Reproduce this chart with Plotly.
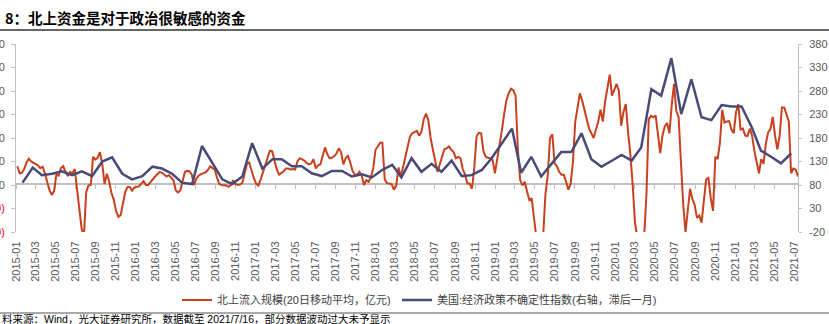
import plotly.graph_objects as go
import pandas as pd

# ---------------- data ----------------
title_text = "8：北上资金是对于政治很敏感的资金"
source_text = "料来源：Wind，光大证券研究所，数据截至 2021/7/16，部分数据波动过大未予显示"
red_name = "北上流入规模(20日移动平均，亿元)"
blue_name = "美国:经济政策不确定性指数(右轴，滞后一月)"

# weekly readings of the northbound 20-day MA (亿元), starting 2015-01-05
red_values = [
    40, 25, 26, 34, 48, 56, 50, 47, 45, 42,
    36, 39, 25, 4, -11, -21, -13, 22, 20, 36,
    40, 28, 19, 28, 25, 34, -5, -52, -92, -110,
    -15, -1, 0, 60, 54, 58, 70, 45, 2, 24,
    8, -17, -31, -55, -68, -64, -42, -15, -4, -4,
    -12, -5, -4, -3, 3, 8, 0, 0, 6, 13,
    18, 23, 28, 26, 22, 18, 21, 15, 10, -11,
    -16, -11, 12, 28, 30, 29, 22, 0, 14, 20,
    23, 25, 27, 32,
    40, 36, 33, 15, 2, 0, 0, -1, -4, 0,
    10, 2, 0, 1, 5, 28, 45, 48, 30, 15,
    3, -1, 12, 28, 40, 60, 73, 72, 52, 33,
    22, 25, 29, 35, 35, 33, 34, 33, 50, 57,
    55, 52, 47, 44, 46, 55, 35, 42, 44, 62,
    80, 66, 57, 58, 61, 67, 78, 70, 44, 57,
    62, 48, 30, 22, 22, 28, 20, 0, 10, 7,
    17, 35, 75, 82, 90, 90, 12, 4, 3, 2,
    -10, -2, 37, 18, 38, 62, 82,
    103, 110, 112, 115, 105, 113, 140, 152, 138,
    100, 75, 50, 28, 44, 62, 76, 78, 82, 75,
    70, 57, 60, 57, 34, 22, 3, 3, -8, 35,
    103, 111, 110, 72, 60, 58, 57, 53, 25, 55,
    82, 115, 150, 180, 195, 205, 202, 190, 76, 10,
    -1, 7, -14, -32, -28, -75, -110, -120, -120, -110,
    -20, 20, 100, 108, 46, 40, 28, 22, 22, 7,
    -10, 3, 50, 135, 170, 195, 180, 160, 140, 120,
    110, 100, 118, 135, 160, 135, 178, 210,
    235, 190, 205, 215, 200, 126, 156, 172, 112, 65,
    0, -80, -110, -115, -115, -110, -20, 140, 147, 144,
    148, 105, 68, 106, 125, 132, 110, 170, 215, 158,
    145, 50, -40, -100, -45, -8, -30, -42, -70, -65,
    -80, -36, 12, 15, -28, -55, 60, 55, 90, 160,
    133, 135, 136, 118, 110, 155, 172, 118, 120, 105,
    104, 120, 105, 73, 50, 25, 55, 45, 88, 112,
    119, 145, 105, 76, 105, 165, 165, 150, 135, 25,
    35, 33, 18,
]
red_dates = pd.date_range("2015-01-05", periods=len(red_values), freq="7D")

# monthly US economic policy uncertainty index (lagged one month)
blue_values = [
    85, 117, 101, 104, 109, 101, 109, 99, 130, 139, 104, 92,
    99, 119, 115, 104, 85, 82, 163, 128, 92, 82, 98, 169,
    115, 135, 135, 120, 120, 105, 99, 110, 110, 98, 103, 96,
    112, 123, 96, 137, 108, 125, 108, 132, 99, 101, 112, 137,
    169, 200, 106, 140, 98, 125, 150, 150, 190, 135, 119, 131,
    144, 132, 160, 284, 270, 350, 231, 305, 224, 218, 250, 247,
    247, 203, 153, 140, 126, 147,
]
blue_dates = pd.date_range("2015-01-01", periods=len(blue_values), freq="MS") + pd.Timedelta(days=20)

left_tickvals = [300, 250, 200, 150, 100, 50, 0, -50, -100]
left_ticktext = ["300", "250", "200", "150", "100", "50", "0",
                 "<span style='color:#FF0000'>(50)</span>",
                 "<span style='color:#FF0000'>(100)</span>"]
right_tickvals = [380, 330, 280, 230, 180, 130, 80, 30, -20]
right_ticktext = ["380", "330", "280", "230", "180", "130", "80", "30", "-20"]

# ---------------- style ----------------
W, H = 829, 324
ML, MR, MT, MB = 16, 31, 44, 92
PW, PH = W - ML - MR, H - MT - MB
RED = "#C8401E"
BLUE = "#4A4A78"
AXIS = "#BFBFBF"
FONT = "Liberation Sans, Arial, Noto Sans CJK SC"
TICKFONT = dict(family=FONT, size=11, color="#595959")
LEGFONT = dict(family=FONT, size=11, color="#404040")


def px_x(px):
    return (px - ML) / PW


def px_y(py):
    return (H - MB - py) / PH


fig = go.Figure()
fig.add_trace(go.Scatter(x=red_dates, y=red_values, name=red_name, mode="lines",
                         line=dict(color=RED, width=2), xaxis="x", yaxis="y", legend="legend"))
fig.add_trace(go.Scatter(x=blue_dates, y=blue_values, name=blue_name, mode="lines",
                         line=dict(color=BLUE, width=2.5), xaxis="x", yaxis="y2", legend="legend2"))
# helper (empty) trace so the zero-crossing category axis is drawn
fig.add_trace(go.Scatter(x=[], y=[], xaxis="x2", yaxis="y", showlegend=False, hoverinfo="skip"))

xr = ["2015-01-01", "2021-07-12"]
fig.update_layout(
    width=W, height=H,
    margin=dict(l=ML, r=MR, t=MT, b=MB, pad=0, autoexpand=False),
    paper_bgcolor="white", plot_bgcolor="white",
    showlegend=True,
    legend=dict(orientation="h", x=px_x(177), y=px_y(300), xanchor="left", yanchor="middle",
                font=LEGFONT, bgcolor="rgba(0,0,0,0)", itemwidth=30),
    legend2=dict(orientation="h", x=px_x(397), y=px_y(300), xanchor="left", yanchor="middle",
                 font=LEGFONT, bgcolor="rgba(0,0,0,0)", itemwidth=30),
    xaxis=dict(type="date", range=xr, tickformat="%Y-%m", dtick="M2", tick0="2015-01-01",
               tickangle=-90, showline=False, showgrid=False, zeroline=False, automargin=False,
               ticks="outside", ticklen=4, tickcolor="rgba(0,0,0,0)", tickfont=TICKFONT),
    xaxis2=dict(type="date", range=xr, overlaying="x", anchor="free", position=px_y(184),
                dtick="M2", tick0="2015-01-01", showticklabels=False, showgrid=False,
                showline=True, linecolor=AXIS, linewidth=2, ticks="outside", ticklen=4,
                tickcolor=AXIS, tickwidth=1, layer="below traces", automargin=False),
    yaxis=dict(range=[-100, 300], tickvals=left_tickvals, ticktext=left_ticktext,
               showline=True, linecolor=AXIS, linewidth=1, ticks="outside", ticklen=4,
               tickcolor=AXIS, showgrid=False, zeroline=False, tickfont=TICKFONT,
               ticklabelstandoff=4, automargin=False),
    yaxis2=dict(range=[-20, 380], tickvals=right_tickvals, ticktext=right_ticktext,
                overlaying="y", side="right", anchor="x",
                showline=True, linecolor=AXIS, linewidth=1, ticks="outside", ticklen=3,
                tickcolor=AXIS, showgrid=False, zeroline=False, tickfont=TICKFONT,
                ticklabelstandoff=5, automargin=False),
)

# title & source lines
fig.add_shape(type="line", xref="paper", yref="paper", x0=px_x(0), x1=px_x(W),
              y0=px_y(30), y1=px_y(30), line=dict(color="#333333", width=1.5))
fig.add_shape(type="line", xref="paper", yref="paper", x0=px_x(0), x1=px_x(W),
              y0=px_y(313), y1=px_y(313), line=dict(color="#555555", width=1.2))

fig.add_annotation(text="<b>" + title_text + "</b>", xref="paper", yref="paper",
                   x=px_x(3), y=px_y(18), xanchor="left", yanchor="middle", showarrow=False,
                   font=dict(family="Noto Sans CJK SC", size=14.5, color="#000000"))
fig.add_annotation(text=source_text, xref="paper", yref="paper",
                   x=px_x(0), y=px_y(319), xanchor="left", yanchor="middle", showarrow=False,
                   font=dict(family=FONT, size=10.5, color="#000000"))

fig.write_html("out.html")
